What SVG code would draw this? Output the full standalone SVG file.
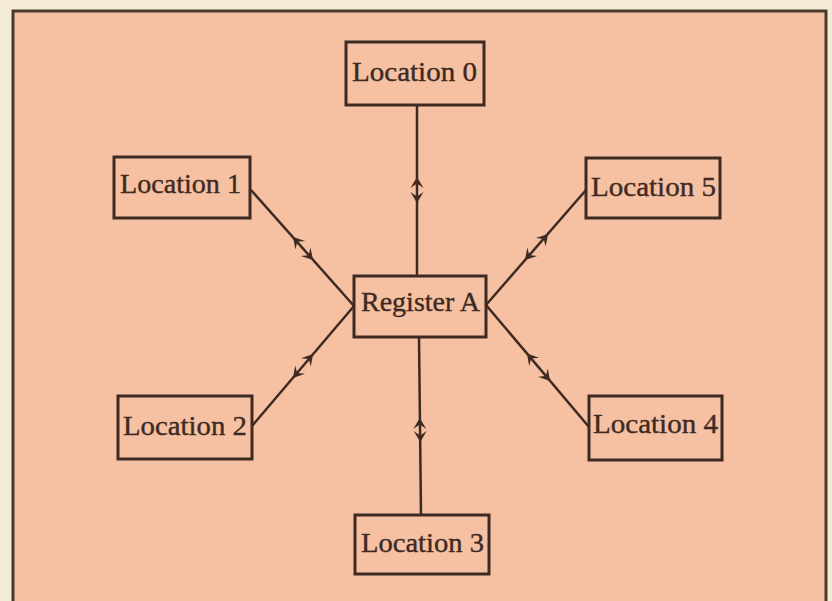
<svg xmlns="http://www.w3.org/2000/svg" width="832" height="601" viewBox="0 0 832 601">
<defs>
<style>
.box{fill:none;stroke:#3e2a22;stroke-width:3}
.lbl{font-family:"Liberation Serif","Times New Roman",serif;font-size:28px;fill:#3e2a22;stroke:#3e2a22;stroke-width:0.4}
.ln{stroke:#3e2a22;stroke-width:2.5;fill:none}
.ah{fill:#3e2a22}
</style>
<path id="ah" d="M0,0 L-11,-6.5 L-6.5,0 L-11,6.5 Z"/>
</defs>
<rect x="0" y="0" width="832" height="601" fill="#f4ecd4"/>
<rect x="13" y="11" width="813" height="600" fill="#f5c1a2" stroke="#4a3a30" stroke-width="3"/>
<g id="connectors">
<line class="ln" x1="417" y1="106" x2="417" y2="276"/>
<use href="#ah" class="ah" transform="translate(417,177) rotate(-90)"/>
<use href="#ah" class="ah" transform="translate(417,203) rotate(90)"/>
<line class="ln" x1="419" y1="337" x2="421" y2="515"/>
<use href="#ah" class="ah" transform="translate(419.8,418) rotate(-90)"/>
<use href="#ah" class="ah" transform="translate(420.2,442) rotate(90)"/>
<line class="ln" x1="251" y1="190" x2="354" y2="306"/>
<use href="#ah" class="ah" transform="translate(293,237) rotate(228.4)"/>
<use href="#ah" class="ah" transform="translate(313,260) rotate(48.4)"/>
<line class="ln" x1="252" y1="426" x2="354" y2="306"/>
<use href="#ah" class="ah" transform="translate(313,354) rotate(-49.6)"/>
<use href="#ah" class="ah" transform="translate(293,378) rotate(130.4)"/>
<line class="ln" x1="486" y1="305" x2="586" y2="190"/>
<use href="#ah" class="ah" transform="translate(548,234) rotate(-49)"/>
<use href="#ah" class="ah" transform="translate(525,260) rotate(131)"/>
<line class="ln" x1="486" y1="305" x2="589" y2="427"/>
<use href="#ah" class="ah" transform="translate(527,353.5) rotate(229.8)"/>
<use href="#ah" class="ah" transform="translate(550,381) rotate(49.8)"/>
</g>
<g id="location0">
<rect class="box" x="346" y="42" width="138" height="63"/>
<text class="lbl" x="352" y="81" textLength="125" lengthAdjust="spacingAndGlyphs">Location 0</text>
</g>
<g id="registerA">
<rect class="box" x="354" y="276" width="132" height="61"/>
<text class="lbl" x="361" y="311" textLength="119" lengthAdjust="spacingAndGlyphs">Register A</text>
</g>
<g id="location3">
<rect class="box" x="355" y="515" width="134" height="59"/>
<text class="lbl" x="361" y="552" textLength="123" lengthAdjust="spacingAndGlyphs">Location 3</text>
</g>
<g id="location1">
<rect class="box" x="114" y="157" width="136" height="61"/>
<text class="lbl" x="120" y="193" textLength="121" lengthAdjust="spacingAndGlyphs">Location 1</text>
</g>
<g id="location2">
<rect class="box" x="118" y="396" width="134" height="63"/>
<text class="lbl" x="123" y="435" textLength="124" lengthAdjust="spacingAndGlyphs">Location 2</text>
</g>
<g id="location5">
<rect class="box" x="586" y="158" width="134" height="60"/>
<text class="lbl" x="591" y="196" textLength="125" lengthAdjust="spacingAndGlyphs">Location 5</text>
</g>
<g id="location4">
<rect class="box" x="589" y="396" width="133" height="64"/>
<text class="lbl" x="593" y="433" textLength="125" lengthAdjust="spacingAndGlyphs">Location 4</text>
</g>
</svg>
